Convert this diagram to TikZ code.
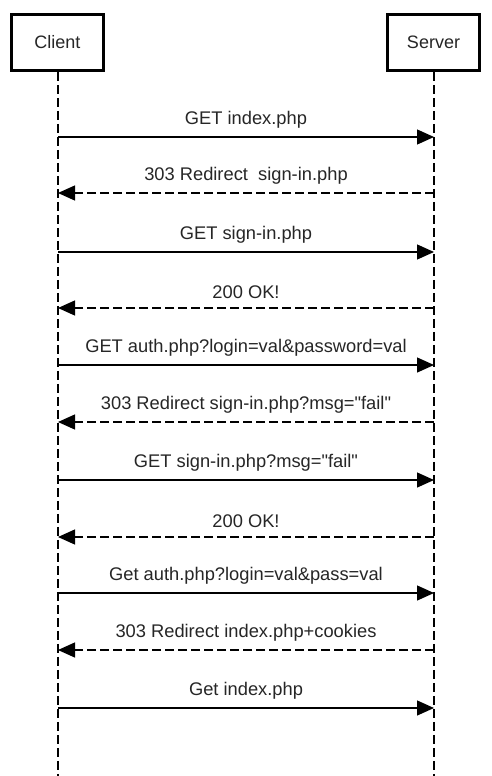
\documentclass[tikz,border=0pt]{standalone}
\usepackage{fontspec}
\newfontfamily\lbfont{Liberation Sans}
\usetikzlibrary{arrows.meta}
\begin{document}
\begin{tikzpicture}[x=1pt,y=-1pt,
  actor/.style={draw,line width=2.7pt,minimum width=92pt,minimum height=56pt,inner sep=0pt,font=\lbfont\fontsize{18}{20}\selectfont},
  lifeline/.style={line width=1.3pt,dash pattern=on 9pt off 4pt},
  msg/.style={line width=1.3pt,-{Triangle[length=17pt,width=15pt]}},
  reply/.style={msg,dash pattern=on 9pt off 4pt},
  lbl/.style={font=\lbfont\fontsize{18.3}{20}\selectfont,inner sep=0pt,anchor=base,text=black!85}]
\useasboundingbox (0,0) rectangle (492,776);
\fill[white] (0,0) rectangle (492,776);
\node[actor,text=black!85] (client) at (57.5,42.5) {Client};
\node[actor,text=black!85] (server) at (433.5,42.5) {Server};
\coordinate (cend) at (58,776);
\coordinate (send) at (434,776);
\draw[lifeline] (client.south -| cend) -- (cend);
\draw[lifeline] (server.south -| send) -- (send);
\foreach \i/\y in {1/137,2/193,3/252,4/308,5/365,6/422,7/480,8/537,9/593,10/650,11/708}{
  \coordinate (c\i) at (58,\y);
  \coordinate (s\i) at (434,\y);
}
\foreach \i/\t in {1/{GET index.php},3/{GET sign-in.php},5/{GET auth.php?login=val\&password=val},7/{GET sign-in.php?msg="fail"},9/{Get auth.php?login=val\&pass=val},11/{Get index.php}}{
  \draw[msg] (c\i) -- node[lbl,above=8.5pt] (m\i) {\t} (s\i);
}
\foreach \i/\t in {2/{303 Redirect \ sign-in.php},4/{200 OK!},6/{303 Redirect sign-in.php?msg="fail"},8/{200 OK!},10/{303 Redirect index.php+cookies}}{
  \draw[reply] (s\i) -- node[lbl,above=8.5pt] (m\i) {\t} (c\i);
}
\end{tikzpicture}
\end{document}
